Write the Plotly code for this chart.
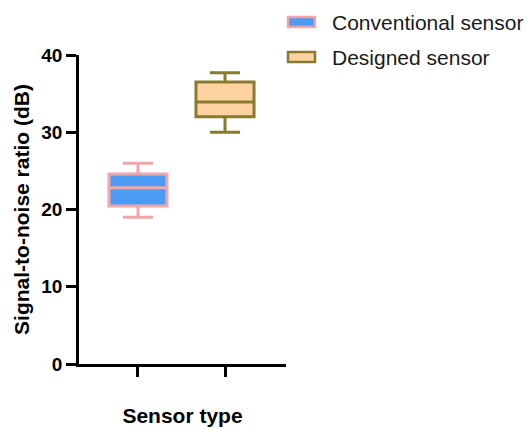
import plotly.graph_objects as go

categories = ["Conventional sensor", "Designed sensor"]
x_pos = [0, 1]
lower_fence = [19.0, 30.0]
q1 = [20.45, 32.0]
median = [22.8, 33.9]
q3 = [24.6, 36.5]
upper_fence = [26.0, 37.7]
fill_colors = ["#4C9CF6", "#FFD3A1"]
line_colors = ["#F2A6AA", "#887A30"]
y_ticks = [0, 10, 20, 30, 40]

W, H = 530, 429
L, R, T, B = 79, 244, 55, 65
pw, ph = W - L - R, H - T - B

fig = go.Figure()
for i, name in enumerate(categories):
    fig.add_trace(go.Box(
        x=[x_pos[i]], q1=[q1[i]], median=[median[i]], q3=[q3[i]],
        lowerfence=[lower_fence[i]], upperfence=[upper_fence[i]],
        name=name, width=0.667, whiskerwidth=0.52,
        fillcolor=fill_colors[i], line=dict(color=line_colors[i], width=3),
        boxpoints=False, showlegend=False, hoverinfo="skip",
    ))

# legend drawn manually
def px2paper(px, py):
    return (px - L) / pw, (H - B - py) / ph

for i, name in enumerate(categories):
    yc = 22 + 35 * i
    x0, y0 = px2paper(288, yc + 5)
    x1, y1 = px2paper(315, yc - 5)
    fig.add_shape(type="rect", xref="paper", yref="paper", x0=x0, y0=y0, x1=x1, y1=y1,
                  fillcolor=fill_colors[i], line=dict(color=line_colors[i], width=2.5))
    tx, ty = px2paper(331, yc)
    fig.add_annotation(x=tx, y=ty, xref="paper", yref="paper", text=name, showarrow=False,
                       xanchor="left", yanchor="middle", xshift=-1,
                       font=dict(family="Liberation Sans, Arial", size=21, color="#1a1a1a"))

fig.update_layout(
    width=W, height=H,
    margin=dict(l=L, r=R, t=T, b=B, autoexpand=False),
    paper_bgcolor="white", plot_bgcolor="white",
    font=dict(family="Liberation Sans, Arial", color="black"),
    showlegend=False,
)
fig.update_xaxes(
    range=[-0.678, 1.701], tickvals=x_pos, ticktext=["", ""],
    ticks="outside", ticklen=10, tickwidth=2.5, tickcolor="black",
    showline=True, linewidth=2.5, linecolor="black", showgrid=False, zeroline=False,
    title=dict(text="<b>Sensor type</b>", font=dict(size=21, color="black"), standoff=31),
)
fig.update_yaxes(
    range=[0, 40], tickvals=y_ticks, ticks="outside", ticklen=10, tickwidth=2.5, tickcolor="black",
    showline=True, linewidth=2.5, linecolor="black", showgrid=False, zeroline=False,
    tickfont=dict(size=19, weight="bold", color="black"),
    title=dict(text="<b>Signal-to-noise ratio (dB)</b>", font=dict(size=21, color="black"), standoff=6),
)

fig.write_html("out.html")
